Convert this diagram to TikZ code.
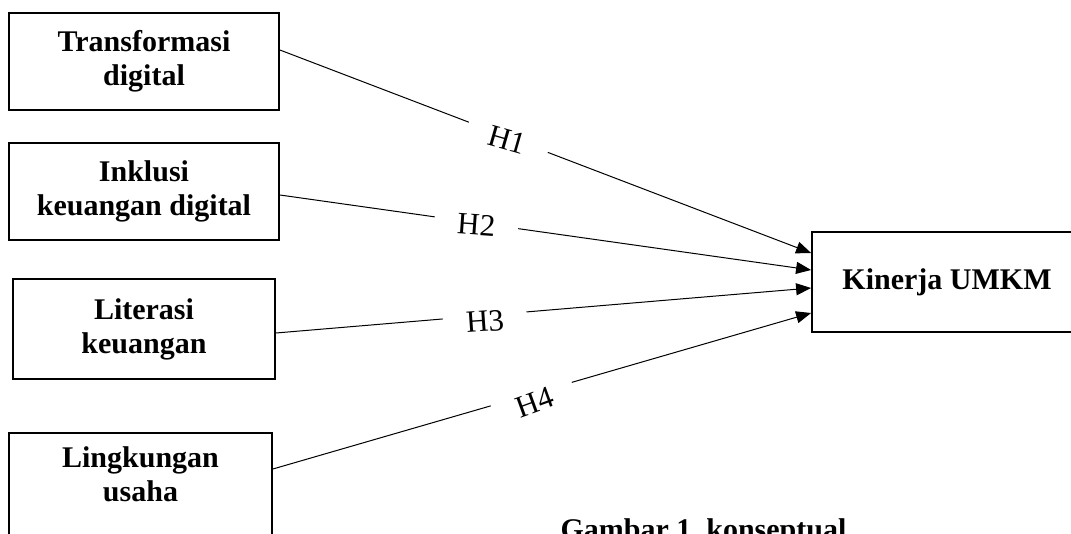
\documentclass[tikz,border=0pt]{standalone}
\usepackage{fontspec}
\setmainfont{Liberation Serif}
\usetikzlibrary{arrows.meta}

\begin{document}
\begin{tikzpicture}[x=1pt,y=-1pt,
    varbox/.style={draw, line width=1.8pt, align=center, inner sep=0pt, font=\fontsize{30}{34}\selectfont\bfseries},
    hyp/.style={-{Triangle[length=15pt,width=12pt]}, line width=1pt},
    hlabel/.style={fill=white, inner sep=0pt, minimum width=84pt, minimum height=30pt, font=\fontsize{31}{32}\selectfont}]
\useasboundingbox (0,0) rectangle (1071,534);
\clip (0,0) rectangle (1071,534);

\node[varbox, minimum width=270pt, minimum height=97pt] (trans) at (144,61.5) {Transformasi\\digital};
\node[varbox, minimum width=270pt, minimum height=97pt] (inkl) at (144,191.5) {Inklusi\\keuangan digital};
\node[varbox, minimum width=262pt, minimum height=100pt] (lit) at (144,329) {Literasi\\keuangan};
\node[varbox, minimum width=263pt, minimum height=110pt, text depth=27pt] (ling) at (140.5,488) {Lingkungan\\usaha};
\node[varbox, minimum width=270pt, minimum height=100pt] (kin) at (947,282) {Kinerja UMKM};

\draw[hyp] ([yshift=11.5pt]trans.east) -- node[hlabel, pos=0.43, rotate=-16, yshift=-3pt] {H1} ([yshift=29pt]kin.west);
\draw[hyp] ([yshift=-3.5pt]inkl.east) -- node[hlabel, pos=0.37, rotate=-4, yshift=-2pt] {H2} ([yshift=12pt]kin.west);
\draw[hyp] ([yshift=-4pt]lit.east) -- node[hlabel, pos=0.39, rotate=4, yshift=-6pt] {H3} ([yshift=-6pt]kin.west);
\draw[hyp] ([yshift=19pt]ling.east) -- node[hlabel, pos=0.48, rotate=20, yshift=-9pt] {H4} ([yshift=-31pt]kin.west);

\node[font=\fontsize{30}{34}\selectfont\bfseries, anchor=base west] (caption) at (557,539) {Gambar 1.\ konseptual};
\end{tikzpicture}
\end{document}
